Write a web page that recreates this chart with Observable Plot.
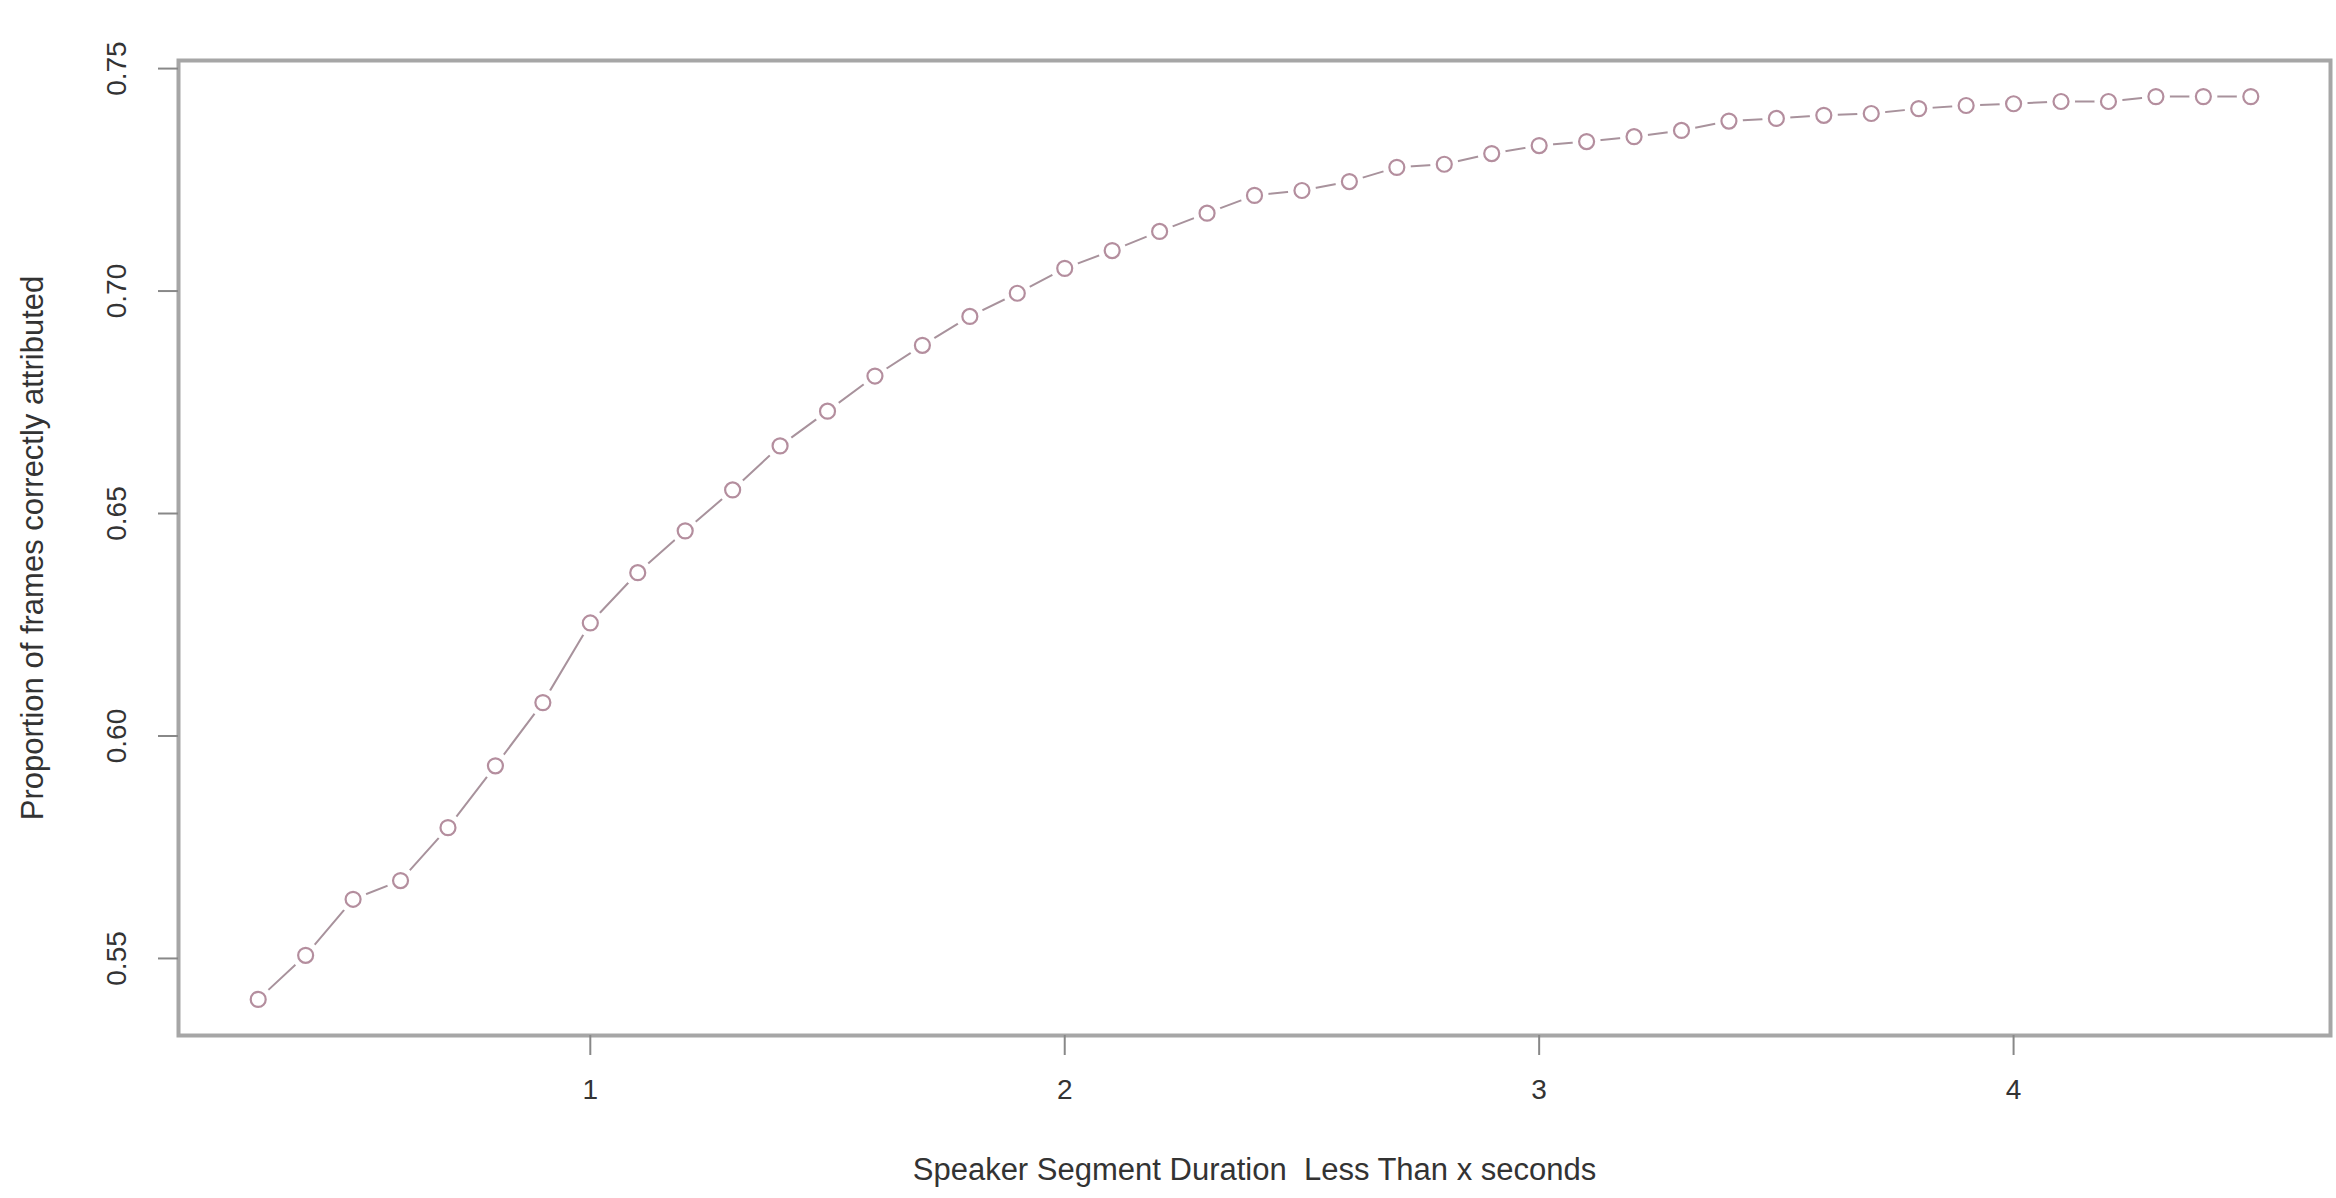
<!DOCTYPE html>
<html>
<head>
<meta charset="utf-8">
<script src="https://cdn.jsdelivr.net/npm/d3@7"></script>
<script src="https://cdn.jsdelivr.net/npm/@observablehq/plot@0.6"></script>
<style>
  html, body { margin: 0; padding: 0; background: #fff; overflow: hidden; }
  #chart svg { display: block; }
  .pre { white-space: pre; }
</style>
</head>
<body>
<div id="chart"></div>
<script>
// Segment duration thresholds (seconds)
const durations = [0.3,0.4,0.5,0.6,0.7,0.8,0.9,1.0,1.1,1.2,1.3,1.4,1.5,1.6,1.7,1.8,1.9,2.0,2.1,2.2,2.3,2.4,2.5,2.6,2.7,2.8,2.9,3.0,3.1,3.2,3.3,3.4,3.5,3.6,3.7,3.8,3.9,4.0,4.1,4.2,4.3,4.4,4.5];
// Proportion of frames correctly attributed
const proportions = [0.5408,0.5507,0.5633,0.5675,0.5794,0.5933,0.6075,0.6254,0.6367,0.6461,0.6553,0.6652,0.6730,0.6809,0.6878,0.6943,0.6995,0.7051,0.7091,0.7134,0.7175,0.7215,0.7226,0.7246,0.7278,0.7285,0.7309,0.7327,0.7336,0.7347,0.7361,0.7382,0.7388,0.7395,0.7399,0.7410,0.7417,0.7421,0.7426,0.7426,0.7437,0.7437,0.7437];
const xTicks = [1, 2, 3, 4];
const yTicks = [0.55, 0.60, 0.65, 0.70, 0.75];
const xTitle = "Speaker Segment Duration  Less Than x seconds";
const yTitle = "Proportion of frames correctly attributed";

const data = durations.map((d, i) => ({x: d, y: proportions[i]}));

// R-style 4% padding of the data range
function padded(vals) {
  const [a, b] = d3.extent(vals);
  const p = (b - a) * 0.04;
  return [a - p, b + p];
}

const col = "#b48e9e";
const lineCol = "#a8929c";
const textCol = "#333";

const chart = Plot.plot({
  width: 2336,
  height: 1198,
  marginLeft: 178,
  marginRight: 6,
  marginTop: 60,
  marginBottom: 163,
  style: {fontFamily: "'Liberation Sans', Arial, sans-serif", background: "#fff", color: textCol},
  x: {domain: padded(durations), label: null},
  y: {domain: padded(proportions), label: null},
  marks: [
    Plot.line(data, {x: "x", y: "y", stroke: lineCol, strokeWidth: 2}),
    Plot.dot(data, {x: "x", y: "y", r: 14, fill: "#fff", stroke: null}),
    Plot.dot(data, {x: "x", y: "y", r: 7.5, stroke: col, strokeWidth: 2.2, fill: "none", symbol: "circle"}),
    Plot.frame({stroke: "#a6a6a6", strokeWidth: 4}),
    Plot.axisX({ticks: xTicks, tickSize: 20, tickPadding: 24, fontSize: 28, stroke: "#888", strokeWidth: 2, fill: textCol, tickFormat: d => String(d), label: null}),
    Plot.axisY({ticks: yTicks, tickSize: 20, tickFormat: () => "", stroke: "#888", strokeWidth: 2, label: null}),
    Plot.text(yTicks, {y: d => d, text: d => d.toFixed(2), frameAnchor: "left", dx: -61, rotate: -90, textAnchor: "middle", lineAnchor: "middle", fontSize: 28, fill: textCol}),
    Plot.text([xTitle], {frameAnchor: "bottom", dy: 135, fontSize: 31, fill: textCol, lineAnchor: "middle", className: "pre"}),
    Plot.text([yTitle], {frameAnchor: "left", dx: -145, rotate: -90, textAnchor: "middle", lineAnchor: "middle", fontSize: 31, fill: textCol})
  ]
});
document.getElementById("chart").appendChild(chart);
</script>
</body>
</html>
